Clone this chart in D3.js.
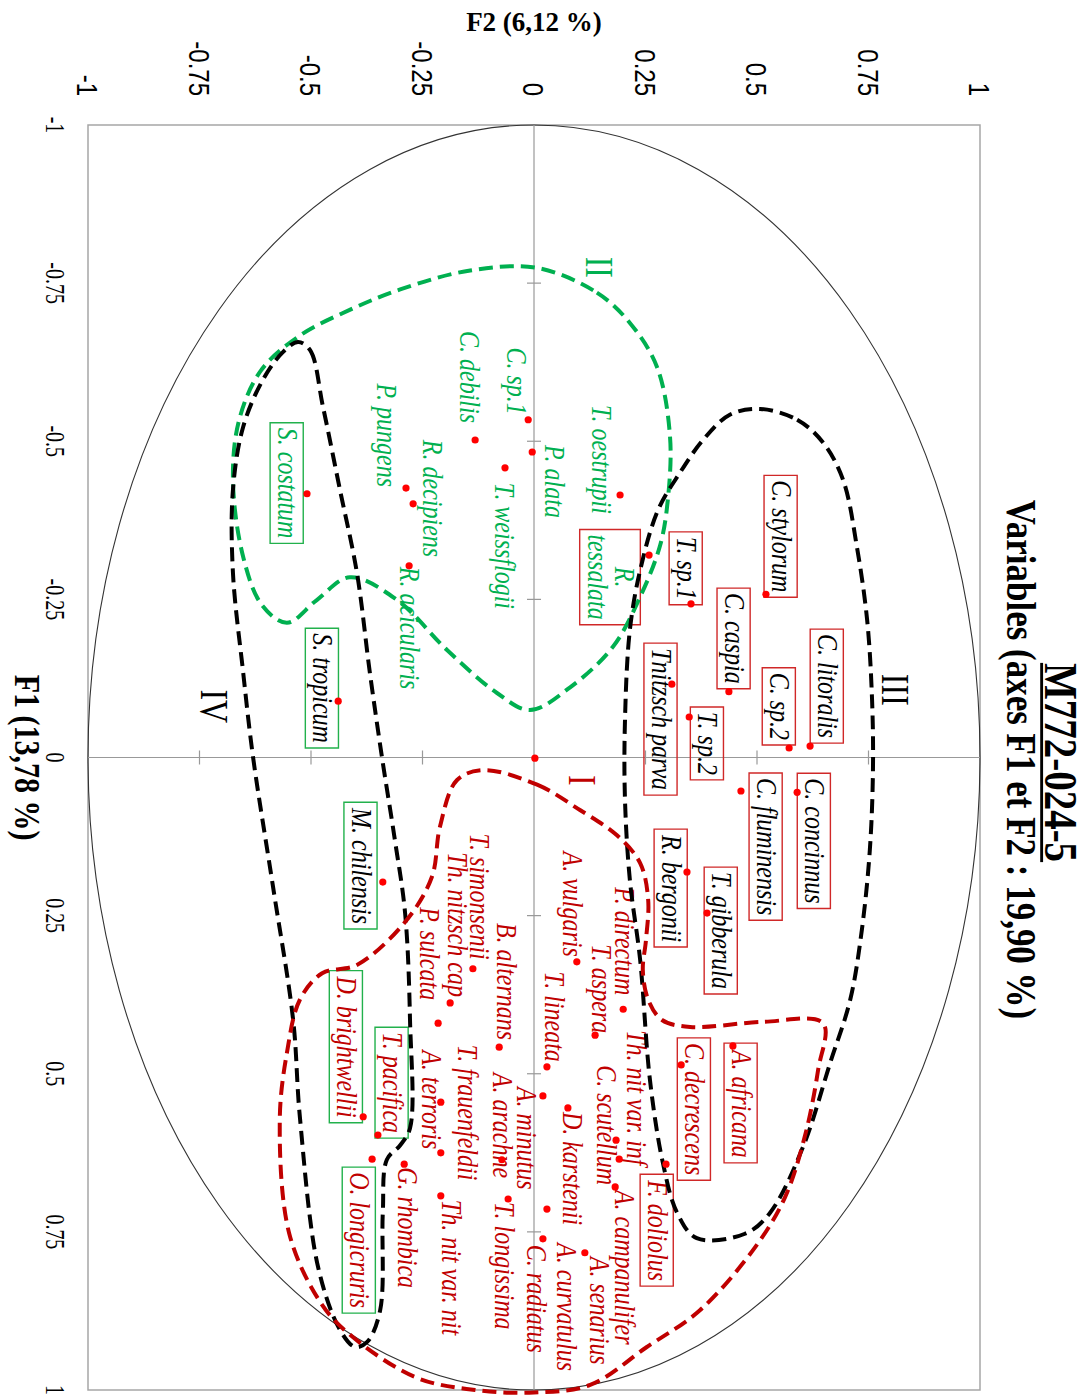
<!DOCTYPE html>
<html>
<head>
<meta charset="utf-8">
<script src="https://cdn.jsdelivr.net/npm/d3@7"></script>
<style>
body { margin: 0; background: #fff; }
</style>
</head>
<body>
<div id="chart"></div>
<script>
// ---- data (F1, F2 coordinates) ----
var speciesNames = ["T. oestrupii", "P. alata", "C. sp.1", "C. debilis", "T. weissflogii", "P. pungens",
  "R. decipiens", "R. acicularis", "S. costatum", "R. tessalata",
  "C. stylorum", "T. sp.1", "C. caspia", "Tnitzsch parva", "T. sp.2", "C. sp.2", "C. litoralis",
  "C. concinnus", "C. fluminensis", "R. bergonii", "T. gibberula", "S. tropicum", "M. chilensis",
  "D. brightwellii", "T. pacifica", "O. longicruris", "P. directum", "A. vulgaris", "T. simonsenii",
  "Th. nitzsch cap", "P. sulcata", "B. alternans", "T. aspera", "T. lineata", "Th. nit var. inf",
  "C. scutellum", "A. campanulifer", "A. senarius", "A. curvatulus", "C. radiatus", "A. minutus",
  "D. karstenii", "A. arachne", "T. longissima", "T. frauenfeldii", "A. terroris", "Th. nit var. nit",
  "G. rhombica", "A. africana", "C. decrescens", "F. doliolus", ""];
var f1Values = [-0.415, -0.483, -0.534, -0.502, -0.458, -0.426, -0.401, -0.303, -0.417, -0.320,
  -0.258, -0.243, -0.104, -0.116, -0.064, -0.015, -0.018, 0.055, 0.053, 0.181, 0.246, -0.089, 0.197,
  0.568, 0.597, 0.635, 0.398, 0.323, 0.334, 0.388, 0.420, 0.458, 0.439, 0.489, 0.605,
  0.635, 0.679, 0.783, 0.714, 0.761, 0.535, 0.554, 0.636, 0.698, 0.625, 0.545, 0.693,
  0.643, 0.456, 0.486, 0.643, 0.001];
var f2Values = [0.193, -0.004, -0.013, -0.132, -0.065, -0.287, -0.271, -0.280, -0.509, 0.258,
  0.520, 0.352, 0.437, 0.309, 0.348, 0.572, 0.619, 0.590, 0.464, 0.343, 0.388, -0.439, -0.339,
  -0.383, -0.350, -0.363, 0.200, 0.096, -0.137, -0.188, -0.215, -0.078, 0.137, 0.029, 0.184,
  0.191, 0.182, 0.114, 0.029, 0.020, 0.020, 0.076, -0.072, -0.058, -0.209, -0.209, -0.209,
  -0.291, 0.446, 0.330, 0.296, 0.002];
// label text colour class and frame class
var textGroup = ["g","g","g","g","g","g","g","g","g","g",
  "k","k","k","k","k","k","k","k","k","k","k","k","k",
  "r","r","r","r","r","r","r","r","r","r","r","r","r","r","r","r","r","r","r","r","r","r","r","r","r","r","r","r","r"];
var boxGroup = ["","","","","","","","","g","r",
  "r","r","r","r","r","r","r","r","r","r","r","g","g",
  "g","g","g","","","","","","","","","","","","","","","","","","","","","","","r","r","r",""];

var tickValues = [-1, -0.75, -0.5, -0.25, 0, 0.25, 0.5, 0.75, 1];

// group outlines as [F2, F1]
var hullII = [[0.007,-0.774],[0.141,-0.735],[0.215,-0.687],[0.276,-0.617],[0.305,-0.507],[0.300,-0.407],
  [0.283,-0.336],[0.238,-0.254],[0.177,-0.175],[0.081,-0.111],[-0.009,-0.075],[-0.083,-0.102],
  [-0.195,-0.170],[-0.307,-0.249],[-0.413,-0.285],[-0.487,-0.249],[-0.554,-0.213],[-0.610,-0.241],
  [-0.652,-0.317],[-0.675,-0.439],[-0.661,-0.534],[-0.612,-0.612],[-0.525,-0.667],[-0.412,-0.708],
  [-0.300,-0.740],[-0.143,-0.770]];
var hullIII = [[0.507,-0.551],[0.590,-0.534],[0.648,-0.498],[0.693,-0.439],[0.724,-0.333],[0.747,-0.217],
  [0.758,-0.091],[0.760,0.020],[0.753,0.146],[0.735,0.273],[0.709,0.383],[0.664,0.483],[0.603,0.616],
  [0.529,0.720],[0.473,0.753],[0.365,0.760],[0.321,0.720],[0.289,0.641],[0.260,0.510],[0.238,0.320],
  [0.215,0.194],[0.204,0.067],[0.204,-0.059],[0.215,-0.202],[0.238,-0.296],[0.278,-0.391],
  [0.327,-0.450],[0.379,-0.502],[0.439,-0.542]];
var hullIV = [[-0.529,-0.657],[-0.502,-0.644],[-0.473,-0.554],[-0.435,-0.423],[-0.397,-0.292],
  [-0.368,-0.134],[-0.341,-0.001],[-0.312,0.130],[-0.289,0.246],[-0.278,0.415],[-0.278,0.586],
  [-0.300,0.613],[-0.330,0.636],[-0.339,0.720],[-0.345,0.874],[-0.374,0.924],[-0.401,0.932],
  [-0.435,0.905],[-0.484,0.806],[-0.525,0.568],[-0.540,0.415],[-0.585,0.205],[-0.630,-0.001],
  [-0.652,-0.134],[-0.675,-0.292],[-0.675,-0.423],[-0.652,-0.523],[-0.608,-0.597],[-0.563,-0.641]];
var hullI = [[-0.114,0.020],[0.007,0.043],[0.103,0.083],[0.186,0.123],[0.238,0.167],[0.256,0.225],
  [0.251,0.289],[0.244,0.336],[0.256,0.383],[0.287,0.415],[0.350,0.426],[0.513,0.418],[0.648,0.420],
  [0.637,0.494],[0.608,0.597],[0.563,0.695],[0.496,0.774],[0.372,0.874],[0.253,0.932],[0.126,0.992],
  [0.000,1.004],[-0.132,1.000],[-0.265,0.980],[-0.417,0.910],[-0.482,0.858],[-0.549,0.752],
  [-0.570,0.573],[-0.554,0.467],[-0.525,0.383],[-0.475,0.341],[-0.397,0.328],[-0.289,0.260],
  [-0.229,0.189],[-0.211,0.110],[-0.173,0.036]];

var groupNames = ["II", "III", "IV", "I"];
var groupF2 = [0.148, 0.812, -0.715, 0.110];
var groupF1 = [-0.775, -0.107, -0.081, 0.036];

// ---- layout: label anchor, offset along text, offset of baseline (px) ----
var labelLayout = {
  "T. oestrupii": ["start", -90, -28], "P. alata": ["start", -7, 13], "C. sp.1": ["end", -5, -21],
  "C. debilis": ["end", -17, -15], "T. weissflogii": ["start", 15, -10], "P. pungens": ["end", -1, -29],
  "R. decipiens": ["start", -64, 10], "R. acicularis": ["start", 1, -9], "S. costatum": ["start", -66, -29],
  "R. tessalata": ["middle", 22, -34, "wrap"],
  "C. stylorum": ["end", -2, 6], "T. sp.1": ["end", -4, -14], "C. caspia": ["end", -8, -4],
  "Tnitzsch parva": ["start", -36, -20], "T. sp.2": ["start", -5, 9], "C. sp.2": ["end", -8, -19],
  "C. litoralis": ["end", -8, 8], "C. concinnus": ["start", -14, 8], "C. fluminensis": ["start", -13, 16],
  "R. bergonii": ["start", -37, -25], "T. gibberula": ["start", -41, 5], "S. tropicum": ["start", -68, -25],
  "M. chilensis": ["start", -74, -31], "D. brightwellii": ["end", 1, -26], "T. pacifica": ["end", -2, 5],
  "O. longicruris": ["start", 13, -22], "P. directum": ["end", -14, -8], "A. vulgaris": ["end", -5, -14],
  "T. simonsenii": ["end", -9, -3], "Th. nitzsch cap": ["end", -6, -2], "P. sulcata": ["end", -23, -18],
  "B. alternans": ["end", -7, -2], "T. aspera": ["end", -2, -3], "T. lineata": ["end", -5, -2],
  "Th. nit var. inf": ["start", -110, 11], "C. scutellum": ["start", -94, -22],
  "A. campanulifer": ["start", 3, 0], "A. senarius": ["start", 4, 5], "A. curvatulus": ["start", 34, 10],
  "C. radiatus": ["start", 6, -16], "A. minutus": ["start", -9, -26], "D. karstenii": ["start", 4, -5],
  "A. arachne": ["start", -87, -9], "T. longissima": ["start", 3, -13], "T. frauenfeldii": ["start", -108, 17],
  "A. terroris": ["start", -52, -19], "Th. nit var. nit": ["start", 4, 1], "G. rhombica": ["start", 3, -6],
  "A. africana": ["start", 4, -1], "C. decrescens": ["start", -22, 4], "F. doliolus": ["start", 16, -18]
};

var textColor = {g: "#00b050", k: "#000000", r: "#c00000"};
var boxColor = {g: "#22b14c", r: "#d02828"};
var serif = "'Liberation Serif', 'Times New Roman', serif";

var width = 1087, height = 1395;
var svg = d3.select("#chart").append("svg")
    .attr("width", width)
    .attr("height", height);

// F2 runs across the page, F1 runs down it (chart turned a quarter turn)
var x = d3.scaleLinear().domain([-1, 1]).range([88, 980]);
var y = d3.scaleLinear().domain([-1, 1]).range([125, 1390]);

// text turned to read downwards, stretched across
function vtext(parent, px, py, str, size, stretch) {
	return parent.append("text")
		.attr("transform", "translate(" + px + "," + py + ") rotate(90) scale(1," + stretch + ")")
		.style("font-size", size + "px")
		.style("font-family", serif)
		.text(str);
}

// frame
svg.append("rect")
	.attr("x", x(-1)).attr("y", y(-1))
	.attr("width", x(1) - x(-1)).attr("height", y(1) - y(-1))
	.attr("fill", "none").attr("stroke", "#a6a6a6").attr("stroke-width", 1.5);

// unit circle
svg.append("ellipse")
	.attr("cx", x(0)).attr("cy", y(0))
	.attr("rx", x(1) - x(0)).attr("ry", y(1) - y(0))
	.attr("fill", "none").attr("stroke", "#333").attr("stroke-width", 1.1);

// central axes with cross ticks
svg.append("line").attr("x1", x(0)).attr("x2", x(0)).attr("y1", y(-1)).attr("y2", y(1))
	.attr("stroke", "#999").attr("stroke-width", 1.2);
svg.append("line").attr("x1", x(-1)).attr("x2", x(1)).attr("y1", y(0)).attr("y2", y(0))
	.attr("stroke", "#999").attr("stroke-width", 1.2);
var innerTicks = tickValues.filter(function(v) { return Math.abs(v) < 1 && v !== 0; });
svg.append("g").selectAll("line").data(innerTicks).enter().append("line")
	.attr("x1", x(0) - 7).attr("x2", x(0) + 7)
	.attr("y1", function(d) { return y(d); }).attr("y2", function(d) { return y(d); })
	.attr("stroke", "#999").attr("stroke-width", 1.2);
svg.append("g").selectAll("line").data(innerTicks).enter().append("line")
	.attr("y1", y(0) - 7).attr("y2", y(0) + 7)
	.attr("x1", function(d) { return x(d); }).attr("x2", function(d) { return x(d); })
	.attr("stroke", "#999").attr("stroke-width", 1.2);

// tick labels
tickValues.forEach(function(v) {
	vtext(svg, x(v), 96, String(v), 24, 1.25)
		.attr("text-anchor", "end").attr("dy", "0.35em")
		.style("font-family", "'Liberation Sans', Arial, sans-serif");
	vtext(svg, 55, y(v), String(v), 20, 1.35)
		.attr("text-anchor", "middle").attr("dy", "0.35em");
});

// axis titles
svg.append("text")
	.attr("x", x(0)).attr("y", 31)
	.attr("text-anchor", "middle")
	.style("font-family", serif).style("font-size", "27px").style("font-weight", "bold")
	.text("F2 (6,12 %)");
vtext(svg, 15, y(0), "F1 (13,78 %)", 30, 1.2)
	.attr("text-anchor", "middle").style("font-weight", "bold");

// title
var t1 = vtext(svg, 1045, y(0) + 5, "M772-024-5", 39, 1.2)
	.attr("text-anchor", "middle").style("font-weight", "bold");
var t1w = t1.node().getComputedTextLength();
svg.append("line")
	.attr("transform", "translate(1045," + (y(0) + 5) + ") rotate(90) scale(1,1.2)")
	.attr("x1", -t1w / 2).attr("x2", t1w / 2).attr("y1", 2.8).attr("y2", 2.8)
	.attr("stroke", "#000").attr("stroke-width", 2.4);
vtext(svg, 1007, y(0) + 2, "Variables (axes F1 et F2 : 19,90 %)", 35, 1.2)
	.attr("text-anchor", "middle").style("font-weight", "bold");

// labels
var labelLayer = svg.append("g");
speciesNames.forEach(function(name, i) {
	var lay = labelLayout[name];
	if (!lay) return;
	var px = x(f2Values[i]) + lay[2], py = y(f1Values[i]) + lay[1];
	var g = labelLayer.append("g")
		.attr("transform", "translate(" + px + "," + py + ") rotate(90) scale(1,1.25)");
	var t = g.append("text")
		.attr("text-anchor", lay[0])
		.style("font-family", serif).style("font-style", "italic").style("font-size", "24px")
		.attr("fill", textColor[textGroup[i]]);
	if (lay[3] === "wrap") {
		var k = name.indexOf(" ");
		t.append("tspan").attr("x", 0).text(name.slice(0, k));
		t.append("tspan").attr("x", 0).attr("dy", 22).text(name.slice(k + 1));
	} else {
		t.text(name);
	}
	if (boxGroup[i]) {
		var bb = t.node().getBBox();
		g.insert("rect", "text")
			.attr("x", bb.x - 5).attr("y", bb.y + 1)
			.attr("width", bb.width + 10).attr("height", bb.height)
			.attr("fill", "none").attr("stroke", boxColor[boxGroup[i]])
			.attr("stroke-width", 1.4).attr("vector-effect", "non-scaling-stroke");
	}
});

// group outlines
var hullLine = d3.line()
	.x(function(d) { return x(d[0]); })
	.y(function(d) { return y(d[1]); })
	.curve(d3.curveCatmullRomClosed.alpha(0.5));
var hulls = [[hullII, "#00b050"], [hullIII, "#000000"], [hullIV, "#000000"], [hullI, "#c00000"]];
svg.append("g").selectAll("path").data(hulls).enter().append("path")
	.attr("d", function(d) { return hullLine(d[0]); })
	.attr("fill", "none")
	.attr("stroke", function(d) { return d[1]; })
	.attr("stroke-width", 4)
	.attr("stroke-dasharray", "14,7");

// points
svg.append("g").selectAll("circle").data(speciesNames).enter().append("circle")
	.attr("cx", function(d, i) { return x(f2Values[i]); })
	.attr("cy", function(d, i) { return y(f1Values[i]); })
	.attr("r", 3.6)
	.attr("fill", "#ff0000");

// group numerals
var numColor = ["#00b050", "#000000", "#000000", "#c00000"];
groupNames.forEach(function(n, i) {
	vtext(svg, x(groupF2[i]), y(groupF1[i]), n, 32, 1.25)
		.attr("text-anchor", "middle").attr("dy", "0.35em")
		.attr("fill", numColor[i]);
});
</script>
</body>
</html>
